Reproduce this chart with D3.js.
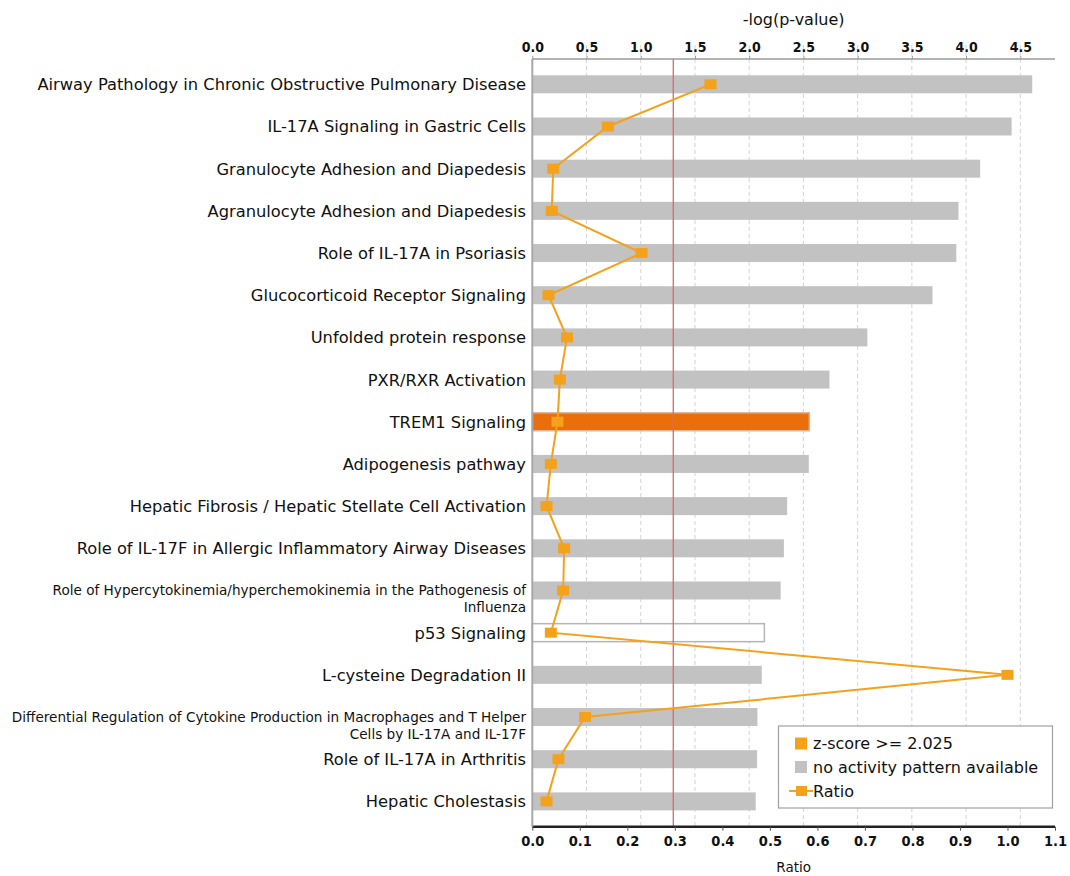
<!DOCTYPE html>
<html>
<head>
<meta charset="utf-8">
<script src="https://cdn.jsdelivr.net/npm/d3@7"></script>
<style>
  html, body { margin: 0; padding: 0; background: #fff; }
  svg { display: block; }
  text { font-family: 'DejaVu Sans', sans-serif; fill: #111; }
  .tickfont { font-family: 'DejaVu Sans Condensed', 'DejaVu Sans', sans-serif; font-stretch: condensed; }
</style>
</head>
<body>
<svg id="chart" width="1070" height="876"></svg>
<script>
// ---- data ----
const categories = [
  "Airway Pathology in Chronic Obstructive Pulmonary Disease",
  "IL-17A Signaling in Gastric Cells",
  "Granulocyte Adhesion and Diapedesis",
  "Agranulocyte Adhesion and Diapedesis",
  "Role of IL-17A in Psoriasis",
  "Glucocorticoid Receptor Signaling",
  "Unfolded protein response",
  "PXR/RXR Activation",
  "TREM1 Signaling",
  "Adipogenesis pathway",
  "Hepatic Fibrosis / Hepatic Stellate Cell Activation",
  "Role of IL-17F in Allergic Inflammatory Airway Diseases",
  "Role of Hypercytokinemia/hyperchemokinemia in the Pathogenesis of|Influenza",
  "p53 Signaling",
  "L-cysteine Degradation II",
  "Differential Regulation of Cytokine Production in Macrophages and T Helper|Cells by IL-17A and IL-17F",
  "Role of IL-17A in Arthritis",
  "Hepatic Cholestasis"
];
const negLogP = [4.61, 4.42, 4.13, 3.93, 3.91, 3.69, 3.09, 2.74, 2.555, 2.55, 2.35, 2.32, 2.29, 2.14, 2.116, 2.076, 2.073, 2.06];
const ratios  = [0.375, 0.159, 0.044, 0.041, 0.230, 0.034, 0.073, 0.058, 0.053, 0.039, 0.030, 0.067, 0.065, 0.039, 1.0, 0.111, 0.055, 0.030];
const status  = ["none","none","none","none","none","none","none","none","positive","none","none","none","none","zero","none","none","none","none"];
const pTicks = [0, 0.5, 1.0, 1.5, 2.0, 2.5, 3.0, 3.5, 4.0, 4.5];
const ratioTicks = [0, 0.1, 0.2, 0.3, 0.4, 0.5, 0.6, 0.7, 0.8, 0.9, 1.0, 1.1];
const threshold = 1.3;
const legendItems = ["z-score >= 2.025", "no activity pattern available", "Ratio"];

// ---- layout ----
const svg = d3.select("#chart");
const pLeft = 532.3, pRight = 1055, pTop = 59, pBottom = 826.7;

const xP = d3.scaleLinear().domain([0, 4.82]).range([pLeft, pRight]);
const xR = d3.scaleLinear().domain([0, 1.1]).range([pLeft, pRight]);
const y = d3.scalePoint().domain(categories).range([pTop, pBottom]).padding(0.6);

const colors = { none: "#c2c2c2", positive: "#ea6f0c", zero: "#ffffff", line: "#f4a11c" };

// gridlines
svg.append("g").selectAll("line").data(pTicks.slice(1)).join("line")
  .attr("x1", d => xP(d)).attr("x2", d => xP(d))
  .attr("y1", pTop - 14).attr("y2", pBottom)
  .attr("stroke", "#d4d4d4").attr("stroke-width", 1).attr("stroke-dasharray", "4,3");

// bars
const barH = 18;
svg.append("g").selectAll("rect").data(categories).join("rect")
  .attr("x", pLeft)
  .attr("y", d => y(d) - barH / 2)
  .attr("width", (d, i) => xP(negLogP[i]) - pLeft)
  .attr("height", barH)
  .attr("fill", (d, i) => colors[status[i]])
  .attr("stroke", (d, i) => status[i] === "zero" ? "#b5b5b5" : (status[i] === "positive" ? "#d9b89a" : "none"))
  .attr("stroke-width", 1.5);

// threshold line
svg.append("line")
  .attr("x1", xP(threshold)).attr("x2", xP(threshold))
  .attr("y1", pTop).attr("y2", pBottom)
  .attr("stroke", "#dc6670").attr("stroke-width", 1.3);

// top axis
const topAxis = d3.axisTop(xP).tickValues(pTicks).tickFormat(d3.format(".1f")).tickSize(3).tickPadding(4);
const gTop = svg.append("g").attr("transform", `translate(0,${pTop})`).call(topAxis);
gTop.select(".domain").attr("stroke", "#9a9a9a").attr("stroke-width", 1.5).attr("d", `M${pLeft},0H${pRight}`);
gTop.selectAll(".tick line").attr("stroke", "#9a9a9a");
gTop.selectAll(".tick text").attr("class", "tickfont").attr("font-size", 14).attr("font-weight", "bold").attr("fill", "#1a1a1a");

// bottom axis
const botAxis = d3.axisBottom(xR).tickValues(ratioTicks).tickFormat(d3.format(".1f")).tickSize(4).tickPadding(5);
const gBot = svg.append("g").attr("transform", `translate(0,${pBottom})`).call(botAxis);
gBot.select(".domain").attr("stroke", "#222").attr("stroke-width", 2.5).attr("d", `M${pLeft},0H${pRight}`);
gBot.selectAll(".tick line").attr("stroke", "#555");
gBot.selectAll(".tick text").attr("class", "tickfont").attr("font-size", 14.5).attr("font-weight", "bold").attr("fill", "#1a1a1a");
gTop.attr("font-family", null);
gBot.attr("font-family", null);

// left axis line
svg.append("line").attr("x1", pLeft).attr("x2", pLeft).attr("y1", pTop).attr("y2", pBottom)
  .attr("stroke", "#a8a8a8").attr("stroke-width", 2);

// axis titles
svg.append("text").attr("x", (pLeft + pRight) / 2).attr("y", 25).attr("text-anchor", "middle")
  .attr("font-size", 16).text("-log(p-value)");
svg.append("text").attr("x", (pLeft + pRight) / 2).attr("y", 872).attr("text-anchor", "middle")
  .attr("font-size", 13.5).text("Ratio");

// category labels
const labels = svg.append("g");
categories.forEach(c => {
  const parts = c.split("|");
  const t = labels.append("text").attr("text-anchor", "end").attr("x", 526);
  if (parts.length === 1) {
    t.attr("y", y(c) + 6).attr("font-size", 16.3).text(c);
  } else {
    t.attr("font-size", 13.6);
    t.append("tspan").attr("x", 526).attr("y", y(c) + 5).text(parts[0]);
    t.append("tspan").attr("x", 526).attr("y", y(c) + 22).text(parts[1]);
  }
});

// ratio line
const line = d3.line().x((d, i) => xR(ratios[i])).y(d => y(d));
svg.append("path").datum(categories).attr("d", line)
  .attr("fill", "none").attr("stroke", colors.line).attr("stroke-width", 2);
svg.append("g").selectAll("rect").data(categories).join("rect")
  .attr("x", (d, i) => xR(ratios[i]) - 6).attr("y", d => y(d) - 5)
  .attr("width", 12).attr("height", 10).attr("fill", colors.line);

// legend
const lg = svg.append("g");
lg.append("rect").attr("x", 778.5).attr("y", 726).attr("width", 274).attr("height", 82)
  .attr("fill", "#fff").attr("stroke", "#a0a0a0").attr("stroke-width", 1.2);
const ly = [743.5, 767, 791];
lg.append("rect").attr("x", 795).attr("y", ly[0] - 6).attr("width", 12).attr("height", 12).attr("fill", colors.line);
lg.append("rect").attr("x", 795).attr("y", ly[1] - 6).attr("width", 12).attr("height", 12).attr("fill", "#c2c2c2");
lg.append("line").attr("x1", 789).attr("x2", 813).attr("y1", ly[2]).attr("y2", ly[2]).attr("stroke", colors.line).attr("stroke-width", 2);
lg.append("rect").attr("x", 796).attr("y", ly[2] - 5).attr("width", 11).attr("height", 10).attr("fill", colors.line);
legendItems.forEach((t, i) => {
  lg.append("text").attr("x", 813).attr("y", ly[i] + 5.5).attr("font-size", 16).text(t);
});
</script>
</body>
</html>
